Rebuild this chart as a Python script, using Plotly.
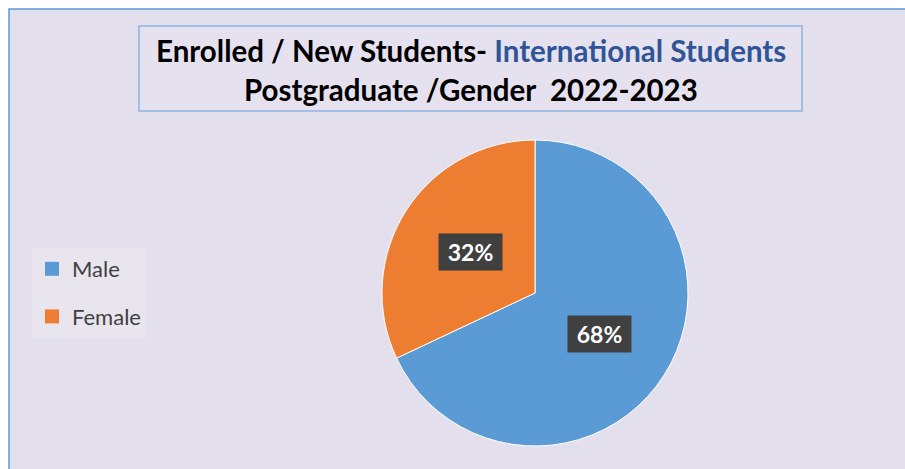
import math
import plotly.graph_objects as go

labels = ["Male", "Female"]
values = [68, 32]
colors = ["#5B9BD5", "#ED7D31"]
title_line1_black = "Enrolled / New Students- "
title_line1_blue = "International Students"
title_line2 = "Postgraduate /Gender  2022-2023"

W, H = 905, 469
cx, cy, r = 535, 293, 153


def px(x):
    return x / W


def py(y):
    return 1 - y / H


fig = go.Figure()
fig.add_trace(go.Pie(
    labels=labels, values=values, sort=False, direction="clockwise", rotation=0,
    marker=dict(colors=colors, line=dict(color="white", width=1)),
    textinfo="none", showlegend=False, hoverinfo="label+percent",
    domain=dict(x=[(cx - r) / W, (cx + r) / W], y=[1 - (cy + r) / H, 1 - (cy - r) / H]),
))

for lab, col in zip(labels, colors):
    fig.add_trace(go.Scatter(
        x=[None], y=[None], mode="markers", name=lab, legendgroup=lab,
        marker=dict(symbol="square", size=14, color=col), showlegend=True,
    ))

total = sum(values)
annots = []
start = 0.0
for v in values:
    frac = v / total
    mid = (start + frac / 2) * 2 * math.pi
    start += frac
    lx = cx + 0.5 * r * math.sin(mid)
    ly = cy - 0.5 * r * math.cos(mid)
    annots.append(dict(
        x=lx / W, y=1 - ly / H, xref="paper", yref="paper", showarrow=False,
        text="<b>%d%%</b>" % round(frac * 100), font=dict(family="Lato", size=23, color="white"),
        bgcolor="#404040", width=61, height=34, xanchor="center", yanchor="middle",
    ))

annots.append(dict(
    x=px((139 + 802) / 2), y=py(51), xref="paper", yref="paper", showarrow=False,
    text="<b>%s<span style='color:#2F5597'>%s</span></b>" % (title_line1_black, title_line1_blue),
    font=dict(family="Lato", size=29.5, color="black"), xanchor="center", yanchor="middle",
))
annots.append(dict(
    x=px((139 + 802) / 2), y=py(90), xref="paper", yref="paper", showarrow=False,
    text="<b>%s</b>" % title_line2,
    font=dict(family="Lato", size=29.5, color="black"), xanchor="center", yanchor="middle",
))

shapes = [
    dict(type="rect", xref="paper", yref="paper", x0=px(9), x1=1.1, y0=-0.1, y1=py(9),
         line=dict(color="#5B9BD5", width=1.5), fillcolor="#E4DFEC", layer="below"),
    dict(type="rect", xref="paper", yref="paper", x0=px(139), x1=px(802), y0=py(111), y1=py(26),
         line=dict(color="#8DB4E2", width=1.5), fillcolor="#E6E1EE", layer="below"),
]

fig.update_layout(
    width=W, height=H, margin=dict(l=0, r=0, t=0, b=0),
    paper_bgcolor="white", plot_bgcolor="rgba(0,0,0,0)",
    xaxis=dict(visible=False, domain=[0, 0.01]), yaxis=dict(visible=False, domain=[0, 0.01]),
    shapes=shapes, annotations=annots,
    legend=dict(x=px(32), y=py(248), xanchor="left", yanchor="top",
                bgcolor="#E9E5EF", font=dict(family="Lato", size=22, color="#404040"),
                tracegroupgap=16, itemwidth=30, borderwidth=0),
)

fig.write_html("out.html", config={"displayModeBar": False},
               post_script="document.body.style.margin='0';document.body.style.overflow='hidden';")
